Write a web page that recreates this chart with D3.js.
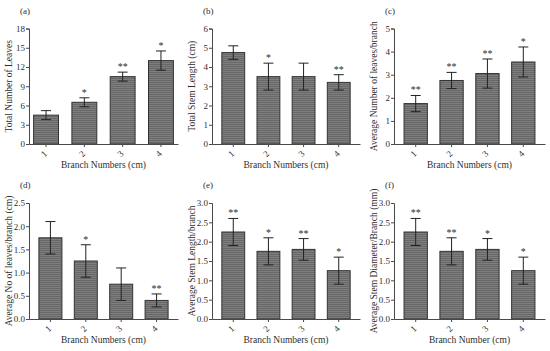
<!DOCTYPE html>
<html>
<head>
<meta charset="utf-8">
<script src="https://cdn.jsdelivr.net/npm/d3@7"></script>
<style>
  body { margin: 0; background: #fff; }
  svg { display: block; font-family: 'Liberation Serif', 'DejaVu Serif', serif; }
</style>
</head>
<body>
<svg id="chart" width="550" height="351"></svg>
<script>
// branch categories shared by every panel
const branches = ['1', '2', '3', '4']

// (a) total number of leaves
const leavesTotal = [4.5, 6.5, 10.5, 13]
const leavesTotalErr = [0.7, 0.7, 0.7, 1.5]
const leavesTotalSig = ['', '*', '**', '*']
const leavesTotalTicks = [0, 3, 6, 9, 12, 15, 18]

// (b) total stem length
const stemTotal = [4.75, 3.5, 3.5, 3.2]
const stemTotalErr = [0.35, 0.7, 0.7, 0.4]
const stemTotalSig = ['', '*', '', '**']
const stemTotalTicks = [0, 1, 2, 3, 4, 5, 6]

// (c) average number of leaves per branch
const leavesAvg = [1.75, 2.75, 3.05, 3.55]
const leavesAvgErr = [0.35, 0.35, 0.63, 0.65]
const leavesAvgSig = ['**', '**', '**', '*']
const leavesAvgTicks = [0, 1, 2, 3, 4, 5]

// (d) average no of leaves per branch (cm)
const leavesNo = [1.75, 1.25, 0.75, 0.4]
const leavesNoErr = [0.35, 0.35, 0.35, 0.14]
const leavesNoSig = ['', '*', '', '**']
const leavesNoTicks = [0, 0.5, 1.0, 1.5, 2.0, 2.5]

// (e) average stem length per branch
const stemAvg = [2.25, 1.75, 1.8, 1.25]
const stemAvgErr = [0.35, 0.35, 0.28, 0.35]
const stemAvgSig = ['**', '*', '**', '*']
const stemAvgTicks = [0, 0.5, 1.0, 1.5, 2.0, 2.5, 3.0]

// (f) average stem diameter per branch
const diamAvg = [2.25, 1.75, 1.8, 1.25]
const diamAvgErr = [0.35, 0.35, 0.28, 0.35]
const diamAvgSig = ['**', '**', '*', '*']
const diamAvgTicks = [0, 0.5, 1.0, 1.5, 2.0, 2.5, 3.0]

const panels = [
  {tag: '(a)', values: leavesTotal, err: leavesTotalErr, sig: leavesTotalSig, ticks: leavesTotalTicks, fmt: 'd',
    yTitle: 'Total Number of Leaves', xTitle: 'Branch Numbers (cm)'},
  {tag: '(b)', values: stemTotal, err: stemTotalErr, sig: stemTotalSig, ticks: stemTotalTicks, fmt: 'd',
    yTitle: 'Total Stem Length (cm)', xTitle: 'Branch Numbers (cm)'},
  {tag: '(c)', values: leavesAvg, err: leavesAvgErr, sig: leavesAvgSig, ticks: leavesAvgTicks, fmt: 'd',
    yTitle: 'Average Number of leaves/branch', xTitle: 'Branch Numbers (cm)'},
  {tag: '(d)', values: leavesNo, err: leavesNoErr, sig: leavesNoSig, ticks: leavesNoTicks, fmt: '.1f',
    yTitle: 'Average No of leaves/branch (cm)', xTitle: 'Branch Numbers (cm)'},
  {tag: '(e)', values: stemAvg, err: stemAvgErr, sig: stemAvgSig, ticks: stemAvgTicks, fmt: '.1f',
    yTitle: 'Average Stem Length/branch', xTitle: 'Branch Numbers (cm)'},
  {tag: '(f)', values: diamAvg, err: diamAvgErr, sig: diamAvgSig, ticks: diamAvgTicks, fmt: '.1f',
    yTitle: 'Average Stem Diameter/Branch (mm)', xTitle: 'Branch Number (cm)'}
]

// panel frame: y-axis x, axis right end, top and bottom of the value range
const colX = [29, 212, 394]
const colEnd = [178, 360, 545]
const rowTop = [28.5, 203]
const rowBottom = [144, 319]
const textColor = '#2e2e2e'
const axisColor = '#4a4a4a'

const svg = d3.select('#chart')

// grey stippled texture of the bars
const pat = svg.append('defs').append('pattern')
  .attr('id', 'stipple')
  .attr('width', 3).attr('height', 2)
  .attr('patternUnits', 'userSpaceOnUse')
pat.append('rect').attr('width', 3).attr('height', 2).attr('fill', '#7e7e7e')
pat.append('rect').attr('width', 3).attr('height', 1).attr('fill', '#686868')

panels.forEach((p, i) => {
  const col = i % 3
  const row = Math.floor(i / 3)
  const x0 = colX[col]
  const x1 = colEnd[col]
  const top = rowTop[row]
  const bottom = rowBottom[row]

  const g = svg.append('g')

  const x = d3.scaleBand()
    .domain(branches)
    .range([x0, x1])
    .paddingInner(0.35)
    .paddingOuter(i === 0 ? 0.12 : 0.28)

  const y = d3.scaleLinear()
    .domain([0, d3.max(p.ticks)])
    .range([bottom, top])

  // bars
  g.selectAll('rect.bar')
    .data(p.values)
    .enter()
    .append('rect')
    .attr('class', 'bar')
    .attr('x', (d, j) => x(branches[j]))
    .attr('y', d => y(d))
    .attr('width', x.bandwidth())
    .attr('height', d => y(0) - y(d))
    .attr('fill', 'url(#stipple)')
    .attr('stroke', '#333')
    .attr('stroke-width', 1)

  // error bars
  const eb = g.selectAll('g.err')
    .data(p.values)
    .enter()
    .append('g')
    .attr('class', 'err')
    .attr('stroke', '#222')
    .attr('stroke-width', 1)
  const cx = j => x(branches[j]) + x.bandwidth() / 2
  eb.append('line')
    .attr('x1', (d, j) => cx(j)).attr('x2', (d, j) => cx(j))
    .attr('y1', (d, j) => y(d - p.err[j])).attr('y2', (d, j) => y(d + p.err[j]))
  eb.append('line')
    .attr('x1', (d, j) => cx(j) - 5).attr('x2', (d, j) => cx(j) + 5)
    .attr('y1', (d, j) => y(d + p.err[j])).attr('y2', (d, j) => y(d + p.err[j]))
  eb.append('line')
    .attr('x1', (d, j) => cx(j) - 5).attr('x2', (d, j) => cx(j) + 5)
    .attr('y1', (d, j) => y(d - p.err[j])).attr('y2', (d, j) => y(d - p.err[j]))

  // significance stars
  g.selectAll('text.sig')
    .data(p.values)
    .enter()
    .append('text')
    .attr('class', 'sig')
    .attr('x', (d, j) => cx(j))
    .attr('y', (d, j) => y(d + p.err[j]) - 2)
    .attr('text-anchor', 'middle')
    .attr('font-size', 10)
    .attr('fill', textColor)
    .text((d, j) => p.sig[j])

  // y axis
  const yAxis = g.append('g')
    .attr('transform', 'translate(' + x0 + ',0)')
    .call(d3.axisLeft(y).tickValues(p.ticks).tickFormat(d3.format(p.fmt)).tickSize(3).tickPadding(1))
  yAxis.selectAll('path, line').attr('stroke', axisColor)
  yAxis.selectAll('text')
    .attr('font-family', 'Liberation Serif')
    .attr('font-size', 9)
    .attr('fill', textColor)

  // x axis
  const xAxis = g.append('g')
    .attr('transform', 'translate(0,' + bottom + ')')
    .call(d3.axisBottom(x).tickSize(3).tickSizeOuter(0))
  xAxis.selectAll('path, line').attr('stroke', axisColor)
  xAxis.selectAll('text')
    .attr('font-family', 'Liberation Serif')
    .attr('font-size', 9)
    .attr('fill', textColor)
    .attr('text-anchor', 'middle')
    .attr('dy', 0)
    .attr('y', 0)
    .attr('transform', 'translate(0,12) rotate(-45)')

  // titles
  g.append('text')
    .attr('transform', 'translate(' + (x0 - 17) + ',' + ((top + bottom) / 2) + ') rotate(-90)')
    .attr('text-anchor', 'middle')
    .attr('font-size', 9.5)
    .attr('fill', textColor)
    .text(p.yTitle)

  g.append('text')
    .attr('x', (x0 + x1) / 2)
    .attr('y', bottom + 24)
    .attr('text-anchor', 'middle')
    .attr('font-size', 9.5)
    .attr('fill', textColor)
    .text(p.xTitle)

  g.append('text')
    .attr('x', x0 - 9)
    .attr('y', top - 15)
    .attr('font-size', 9)
    .attr('fill', textColor)
    .text(p.tag)
})
</script>
</body>
</html>
